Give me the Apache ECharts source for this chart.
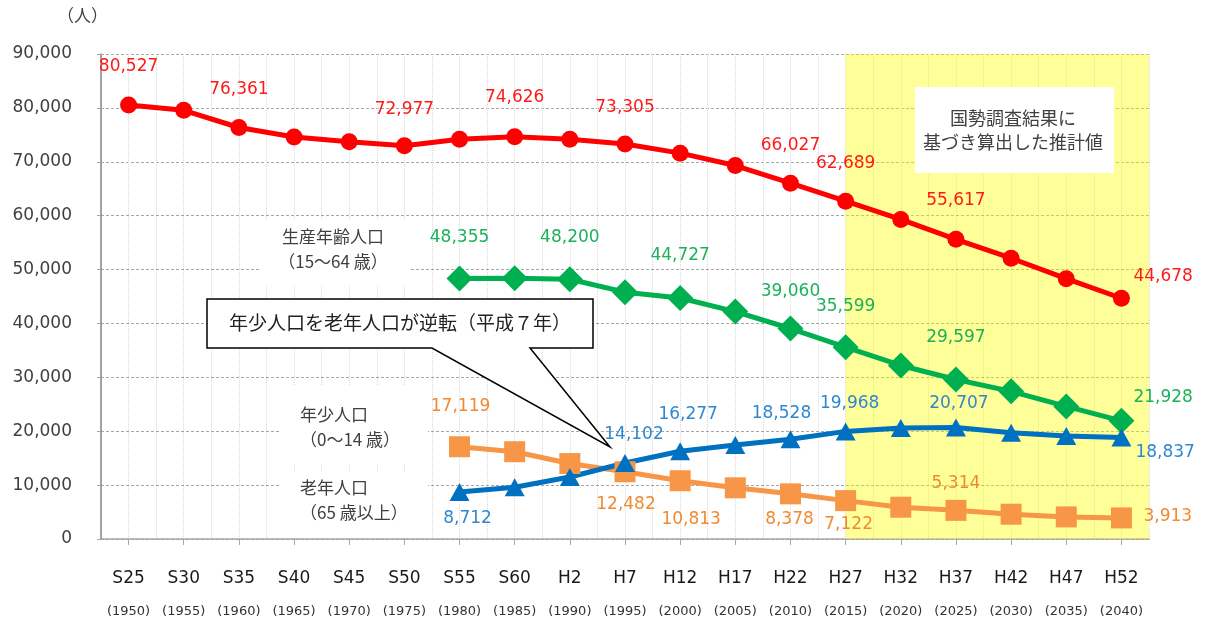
<!DOCTYPE html>
<html>
<head>
<meta charset="utf-8">
<script src="https://cdn.jsdelivr.net/npm/echarts@6/dist/echarts.min.js"></script>
<style>html,body{margin:0;background:#fff}#main{width:1206px;height:624px}</style>
</head>
<body>
<div id="main"></div>
<script>
var categories = ['S25','S30','S35','S40','S45','S50','S55','S60','H2','H7','H12','H17','H22','H27','H32','H37','H42','H47','H52'];
var years = ['1950','1955','1960','1965','1970','1975','1980','1985','1990','1995','2000','2005','2010','2015','2020','2025','2030','2035','2040'];
var total = [80527, 79550, 76361, 74600, 73700, 72977, 74200, 74626, 74200, 73305, 71600, 69300, 66027, 62689, 59300, 55617, 52100, 48300, 44678];
var working = [null, null, null, null, null, null, 48355, 48400, 48200, 45800, 44727, 42200, 39060, 35599, 32200, 29597, 27400, 24600, 21928];
var young = [null, null, null, null, null, null, 8712, 9600, 11500, 14102, 16277, 17450, 18528, 19968, 20600, 20707, 19700, 19100, 18837];
var elderly = [null, null, null, null, null, null, 17119, 16200, 14000, 12482, 10813, 9500, 8378, 7122, 5900, 5314, 4600, 4100, 3913];
var forecastFrom = 'H27';

var numFont = 'DejaVu Sans';
var jpFont = 'Noto Sans CJK JP';

// label placement: category -> [dx, dy, align]
var totalSpots = {S25:[0,-38], S35:[0,-38], S50:[0,-36], S60:[0,-39], H7:[0,-36], H22:[0,-38], H27:[0,-38], H37:[0,-39], H52:[12,-22,'left']};
var workingSpots = {S55:[0,-41], H2:[0,-42], H12:[0,-42], H22:[0,-37], H27:[0,-41], H37:[0,-42], H52:[12,-23,'left']};
var youngSpots = {S55:[8,27], H7:[9,-28], H12:[8,-37], H22:[-9,-26], H27:[4,-28], H37:[3,-24], H52:[14,15,'left']};
var elderlySpots = {S55:[1,-40], H7:[1,33], H12:[11,39], H22:[-1,26], H27:[3,24], H37:[0,-27], H52:[22,-1,'left']};

function withLabels(values, spots, color) {
    return values.map(function (v, i) {
        var s = spots[categories[i]];
        if (v == null || !s) return v;
        return {
            value: v,
            label: {
                show: true, position: 'inside', offset: [s[0], s[1]],
                align: s[2] || 'center', verticalAlign: 'middle',
                color: color, fontSize: 17, fontFamily: numFont,
                formatter: function (p) { return p.value.toLocaleString('en-US'); }
            }
        };
    });
}

function lineSeries(name, values, spots, color, labelColor, symbol, size) {
    return {
        name: name, type: 'line', z: 3,
        data: withLabels(values, spots, labelColor),
        symbol: symbol, symbolSize: size, showSymbol: true,
        lineStyle: {color: color, width: 5},
        itemStyle: {color: color},
        label: {show: false}
    };
}

var fromIdx = categories.indexOf(forecastFrom) * 2 + 1;

var myChart = echarts.init(document.getElementById('main'));
option = {
    animation: false,
    grid: {left: 101, right: 57, top: 54, bottom: 85},
    xAxis: [
        {
            type: 'category',
            data: categories,
            boundaryGap: true,
            axisLine: {lineStyle: {color: '#A6A6A6', width: 1.5}},
            axisTick: {show: true, alignWithLabel: true, interval: 0, length: 6, lineStyle: {color: '#A6A6A6'}},
            splitLine: {show: false},
            axisLabel: {
                margin: 22,
                interval: 0,
                formatter: function (v, i) { return '{a|' + v + '}\n{b|(' + years[i] + ')}'; },
                rich: {
                    a: {fontSize: 17, fontFamily: numFont, color: '#1a1a1a', lineHeight: 36},
                    b: {fontSize: 13, fontFamily: numFont, color: '#333', lineHeight: 30}
                }
            }
        },
        {
            type: 'value', min: 0, max: categories.length * 2, interval: 1,
            axisLine: {show: false}, axisTick: {show: false}, axisLabel: {show: false},
            splitLine: {show: true, lineStyle: {color: '#D9D9D9', type: 'dotted', width: 1}}
        }
    ],
    yAxis: {
        type: 'value', min: 0, max: 90000, interval: 10000,
        axisLine: {show: true, lineStyle: {color: '#868686', width: 1.5}},
        axisTick: {show: true, length: 6, lineStyle: {color: '#A6A6A6', type: 'dashed'}},
        splitLine: {lineStyle: {color: '#A6A6A6', type: [3, 2]}},
        axisLabel: {
            margin: 29, fontSize: 17, fontFamily: numFont, color: '#404040',
            formatter: function (v) { return v.toLocaleString('en-US'); }
        }
    },
    series: [
        {
            name: 'forecast', type: 'line', xAxisIndex: 1, z: 1, data: [],
            markArea: {
                silent: true,
                itemStyle: {color: '#FFFF00', opacity: 0.4},
                data: [[{xAxis: fromIdx, yAxis: 0}, {xAxis: categories.length * 2, yAxis: 90000}]]
            }
        },
        lineSeries('総人口', total, totalSpots, '#FF0000', '#FF1A1A', 'circle', 17),
        lineSeries('生産年齢人口', working, workingSpots, '#00B050', '#1EB05A', 'diamond', 26),
        lineSeries('老年人口', elderly, elderlySpots, '#F79646', '#F08A30', 'rect', 21),
        lineSeries('年少人口', young, youngSpots, '#0070C0', '#2F87D0', 'triangle', [20, 18])
    ],
    graphic: [
        {type: 'text', left: 57, top: 7, style: {text: '（人）', font: '17px "Noto Sans CJK JP"', fill: '#404040'}},
        {type: 'rect', z: 10, shape: {x: 915, y: 87, width: 199, height: 86}, style: {fill: '#fff'}},
        {type: 'text', z: 11, x: 1013, y: 130, style: {text: '国勢調査結果に\n基づき算出した推計値', font: '18px "Noto Sans CJK JP"', fill: '#404040', align: 'center', verticalAlign: 'middle', lineHeight: 24}},
        {type: 'rect', z: 10, shape: {x: 260, y: 219, width: 150, height: 67}, style: {fill: '#fff'}},
        {type: 'text', z: 11, x: 333, y: 249, style: {text: '生産年齢人口\n（15～64 歳）', font: '17px "Noto Sans CJK JP"', fill: '#404040', align: 'center', verticalAlign: 'middle', lineHeight: 25}},
        {type: 'rect', z: 10, shape: {x: 280, y: 386, width: 148, height: 78}, style: {fill: '#fff'}},
        {type: 'text', z: 11, x: 300, y: 427, style: {text: '年少人口\n（0～14 歳）', font: '17px "Noto Sans CJK JP"', fill: '#404040', align: 'left', verticalAlign: 'middle', lineHeight: 25}},
        {type: 'rect', z: 10, shape: {x: 280, y: 471, width: 148, height: 66}, style: {fill: '#fff'}},
        {type: 'text', z: 11, x: 300, y: 500, style: {text: '老年人口\n（65 歳以上）', font: '17px "Noto Sans CJK JP"', fill: '#404040', align: 'left', verticalAlign: 'middle', lineHeight: 25}},
        {type: 'polygon', z: 10, shape: {points: [[207, 299], [593, 299], [593, 348], [530, 348], [610, 447], [432, 348], [207, 348]]}, style: {fill: '#fff', stroke: '#000', lineWidth: 1.5}},
        {type: 'text', z: 11, x: 400, y: 323, style: {text: '年少人口を老年人口が逆転（平成７年）', font: '19px "Noto Sans CJK JP"', fill: '#222', align: 'center', verticalAlign: 'middle'}}
    ]
};
myChart.setOption(option);
</script>
</body>
</html>
